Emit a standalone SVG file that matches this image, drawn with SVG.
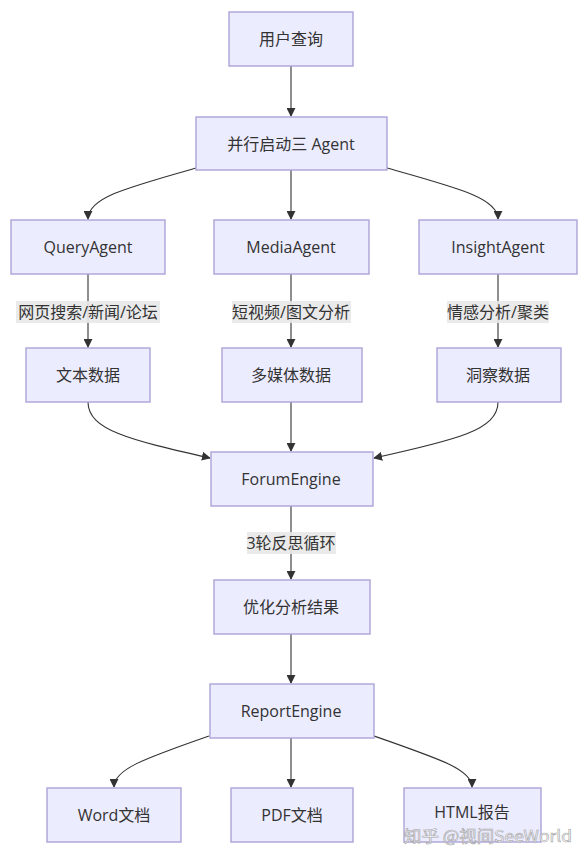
<svg xmlns="http://www.w3.org/2000/svg" width="588" height="856" viewBox="0 0 588 856">
<style>
.node rect{fill:#ECECFF;stroke:#ADA3D8;stroke-width:1.4}
.node text,.lbl text{font-family:"Open Sans","Noto Sans CJK SC",sans-serif;font-size:16px;fill:#333;text-anchor:middle;dominant-baseline:central}
.edge{fill:none;stroke:#333;stroke-width:1.1;marker-end:url(#arr)}
.lbl rect{fill:#E8E8E8;opacity:0.9}
.wm{font-family:"Noto Sans CJK SC","Open Sans",sans-serif;font-size:16px;fill:#fff;stroke:#9a9a9a;stroke-width:0.6;opacity:0.9}
</style>
<defs>
<marker id="arr" viewBox="0 0 10 10" refX="9" refY="5" markerWidth="9" markerHeight="9" markerUnits="userSpaceOnUse" orient="auto">
<path d="M0,0 L10,5 L0,10 z" fill="#333"/>
</marker>
</defs>
<rect width="588" height="856" fill="#fff"/>
<g id="connectors">
<path class="edge" d="M291,66 L291,116"/>
<path class="edge" d="M291,170 L291,219"/>
<path class="edge" d="M196,168 C125,188 88,198 88,219"/>
<path class="edge" d="M387,168 C458,188 498,198 498,219"/>
<path class="edge" d="M88,274 L88,347"/>
<path class="edge" d="M291,274 L291,347"/>
<path class="edge" d="M498,274 L498,347"/>
<path class="edge" d="M88,402 C88,430 130,440 210,458"/>
<path class="edge" d="M291,402 L291,451"/>
<path class="edge" d="M498,402 C498,430 456,440 374,458"/>
<path class="edge" d="M291,506 L291,579"/>
<path class="edge" d="M291,634 L291,683"/>
<path class="edge" d="M209,736 C140,760 114,770 114,787"/>
<path class="edge" d="M291,738 L291,787"/>
<path class="edge" d="M374,736 C443,760 472,770 472,787"/>
</g>
<g id="edge-labels">
<g class="lbl"><rect x="16" y="301" width="144" height="22"/><text x="88" y="312">网页搜索/新闻/论坛</text></g>
<g class="lbl"><rect x="232" y="301" width="119" height="22"/><text x="291" y="312">短视频/图文分析</text></g>
<g class="lbl"><rect x="447" y="301" width="102" height="22"/><text x="498" y="312">情感分析/聚类</text></g>
<g class="lbl"><rect x="247" y="532" width="89" height="22"/><text x="291" y="543">3轮反思循环</text></g>
</g>
<g id="n-query" class="node"><rect x="229" y="12" width="124" height="54"/><text x="291" y="39">用户查询</text></g>
<g id="n-parallel" class="node"><rect x="196" y="117" width="191" height="53"/><text x="291" y="144">并行启动三 Agent</text></g>
<g id="n-queryagent" class="node"><rect x="11" y="220" width="154" height="54"/><text x="88" y="247">QueryAgent</text></g>
<g id="n-mediaagent" class="node"><rect x="214" y="220" width="155" height="54"/><text x="291" y="247">MediaAgent</text></g>
<g id="n-insightagent" class="node"><rect x="419" y="220" width="158" height="54"/><text x="498" y="247">InsightAgent</text></g>
<g id="n-text" class="node"><rect x="26" y="348" width="124" height="54"/><text x="88" y="375">文本数据</text></g>
<g id="n-media" class="node"><rect x="222" y="348" width="140" height="54"/><text x="291" y="375">多媒体数据</text></g>
<g id="n-insight" class="node"><rect x="437" y="348" width="124" height="54"/><text x="498" y="375">洞察数据</text></g>
<g id="n-forum" class="node"><rect x="211" y="452" width="162" height="54"/><text x="291" y="479">ForumEngine</text></g>
<g id="n-opt" class="node"><rect x="214" y="580" width="156" height="54"/><text x="291" y="607">优化分析结果</text></g>
<g id="n-report" class="node"><rect x="210" y="684" width="164" height="54"/><text x="291" y="711">ReportEngine</text></g>
<g id="n-word" class="node"><rect x="47" y="788" width="134" height="54"/><text x="114" y="815">Word文档</text></g>
<g id="n-pdf" class="node"><rect x="231" y="788" width="122" height="54"/><text x="292" y="815">PDF文档</text></g>
<g id="n-html" class="node"><rect x="404" y="788" width="137" height="54"/><text x="472" y="812">HTML报告</text></g>
<text class="wm" x="404" y="842" textLength="168" lengthAdjust="spacingAndGlyphs">知乎 @视间SeeWorld</text>
</svg>
